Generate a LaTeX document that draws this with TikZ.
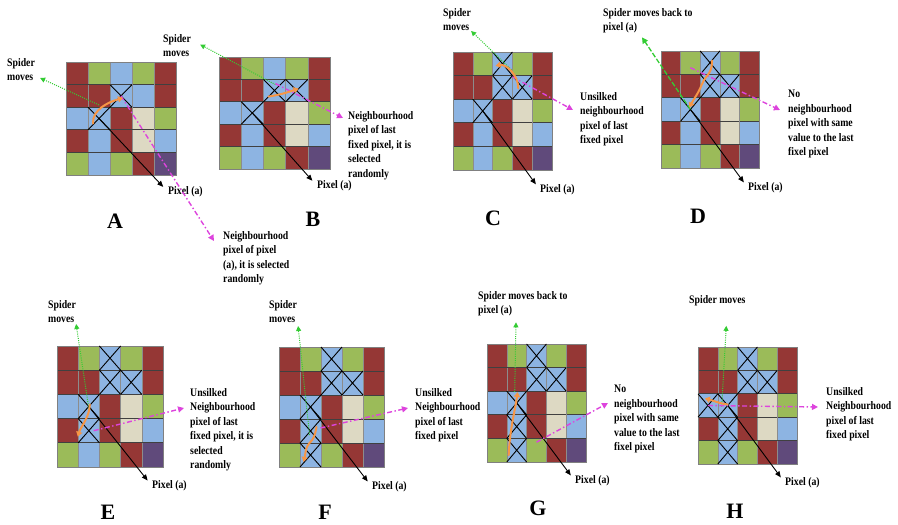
\documentclass[tikz,border=0pt]{standalone}
\usepackage{fontspec}
\setmainfont{Liberation Serif}
\newfontfamily\lblfont[FakeStretch=0.85]{Liberation Serif}
\usetikzlibrary{arrows.meta,calc}
\definecolor{cr}{HTML}{953735}
\definecolor{cg}{HTML}{9BBB59}
\definecolor{cb}{HTML}{8DB4E2}
\definecolor{cw}{HTML}{DDD9C3}
\definecolor{cp}{HTML}{604A7B}
\definecolor{arrg}{HTML}{33CC33}
\definecolor{arrp}{HTML}{DD44DD}
\definecolor{arro}{HTML}{F79646}
\tikzset{
  lbl/.style={font={\lblfont\bfseries\fontsize{11.5}{14.5}\selectfont}, align=left, inner sep=0pt, anchor=north west},
  bigl/.style={font={\bfseries\fontsize{22}{24}\selectfont}, inner sep=0pt},
  vline/.style={draw=black!45, line width=0.4pt},
  hline/.style={draw=black!75, line width=0.7pt},
  bline/.style={draw=black!50, line width=0.5pt},
  xline/.style={draw=black, line width=0.9pt},
  grn/.style={draw=arrg, line width=1pt, dash pattern=on 1pt off 1.2pt, -{Triangle[length=5pt,width=5pt]}},
  grnd/.style={draw=arrg, line width=1.3pt, dash pattern=on 5pt off 2pt, -{Triangle[length=6pt,width=6pt]}},
  pnk/.style={draw=arrp, line width=1.4pt, dash pattern=on 5pt off 2.5pt on 1.4pt off 2.5pt, -{Triangle[length=6pt,width=6pt]}},
  org/.style={draw=arro, line width=2pt, line cap=round, -{Triangle[length=5pt,width=6pt]}},
  blk/.style={draw=black, line width=0.9pt, shorten >=7pt, -{Triangle[length=6pt,width=5pt]}},
}
\newcommand\gridpanel[6]{%
  \pgfmathsetmacro\gcw{#4/5}\pgfmathsetmacro\gch{#5/5}%
  \begin{scope}[shift={(#2,#3)}, x=\gcw pt, y=-\gch pt]
    \foreach[count=\r] \row in {{cr,cg,cb,cg,cr},{cr,cr,cb,cb,cr},{cb,cb,cr,cw,cg},{cr,cb,cr,cw,cb},{cg,cb,cg,cr,cp}}{
      \foreach[count=\c] \col in \row {\fill[fill=\col] (\c-1,\r-1) rectangle (\c,\r);}}
    \foreach \i in {1,...,4} {\draw[vline] (\i,0) -- (\i,5); \draw[hline] (0,\i) -- (5,\i);}
    \draw[bline] (0,0) rectangle (5,5);
    \foreach \r/\c in {#6} {\draw[xline] (\c-1,\r-1) -- (\c,\r) (\c,\r-1) -- (\c-1,\r);}
    \foreach \r in {1,...,5}{\foreach \c in {1,...,5}{\coordinate (#1-\r-\c) at (\c-0.5,\r-0.5);}}
  \end{scope}}
\begin{document}
\begin{tikzpicture}[x=1pt,y=-1pt]
\useasboundingbox (0,0) rectangle (898,525);
% grids
\gridpanel{A}{66}{62}{110}{113}{2/3,3/2}
\gridpanel{B}{219}{57}{111}{112}{2/3,2/4,3/2}
\gridpanel{C}{453}{52}{99}{118}{1/3,2/3,2/4,3/2}
\gridpanel{D}{661}{51}{98}{117}{1/3,2/3,2/4,3/2}
\gridpanel{E}{57}{346}{106}{121}{1/3,2/3,2/4,3/2,4/2}
\gridpanel{F}{279}{347}{105}{120}{1/3,2/3,2/4,3/2,4/2,5/2}
\gridpanel{G}{487}{344}{99}{118}{1/3,2/3,2/4,3/2,4/2,5/2}
\gridpanel{H}{698}{347}{99}{117}{1/3,2/3,2/4,3/1,3/2,4/2,5/2}
% ---------- A
\node[lbl] (spA) at (7,58) {Spider\\moves};
\node[lbl,anchor=west] (pxA) at (168,192) {Pixel (a)};
\node[lbl] (nbA) at (223,231) {Neighbourhood\\pixel of pixel\\(a), it is selected\\randomly};
\node[bigl] (lA) at (115,221) {A};
\draw[grn] ($(A-2-2)!0.4!(A-3-2)$) -- ($(spA.south east)+(5,-3)$);
\draw[blk] (A-3-2) -- (pxA.west);
\draw[pnk] (A-2-3) -- ($(nbA.north west)+(-9,10)$);
\draw[org] ($(A-3-2)+(-6,5)$) .. controls +(-1,-14) and +(-14,4) .. ($(A-2-3)+(2,2)$);
% ---------- B
\node[lbl] (spB) at (163,34) {Spider\\moves};
\node[lbl,anchor=west] (pxB) at (317,186) {Pixel (a)};
\node[lbl] (nbB) at (348,111) {Neighbourhood\\pixel of last\\fixed pixel, it is\\selected\\randomly};
\node[bigl] (lB) at (313,219) {B};
\draw[grn] ($(B-2-3)+(1,-6)$) -- ($(spB.east)+(9,-1)$);
\draw[blk] (B-3-2) -- (pxB.west);
\draw[pnk] ($(B-2-3)+(1,-7)$) -- ($(nbB.north west)+(-5,7)$);
\draw[org] ($(B-2-3)+(-6,6)$) .. controls +(12,-2) and +(-12,4) .. ($(B-2-4)+(2,-2)$);
% ---------- C
\node[lbl] (spC) at (443,8) {Spider\\moves};
\node[lbl,anchor=west] (pxC) at (540,190) {Pixel (a)};
\node[lbl] (nbC) at (580,92) {Unsilked\\neighbourhood\\pixel of last\\fixed pixel};
\node[bigl] (lC) at (493,218) {C};
\draw[grn] ($(C-1-3)+(9,6)$) -- (spC.south east);
\draw[blk] (C-3-2) -- (pxC.west);
\draw[pnk] ($(C-1-3)+(10,13)$) -- ($(nbC.north west)+(-7,18)$);
\draw[org] ($(C-2-4)+(-4,1)$) .. controls +(0,-14) and +(10,-2) .. ($(C-1-3)+(-7,2)$);
% ---------- D
\node[lbl] (spD) at (603,8) {Spider moves back to\\pixel (a)};
\node[lbl,anchor=west] (pxD) at (748,188) {Pixel (a)};
\node[lbl] (nbD) at (788,90) {No\\neighbourhood\\pixel with same\\value to the last\\fixel pixel};
\node[bigl] (lD) at (698,216) {D};
\draw[grnd] (D-3-2) -- ($(spD.south west)+(39,4)$);
\draw[blk] (D-3-2) -- (pxD.west);
\draw[pnk] ($(D-1-2)+(0,5)$) -- ($(nbD.north west)+(-8,20)$);
\draw[org] ($(D-1-3)+(2,-2)$) .. controls +(0,14) and +(4,-10) .. ($(D-2-3)+(-8,-2)$) .. controls +(-4,10) and +(4,-8) .. ($(D-3-2)+(-1,-2)$);
% ---------- E
\node[lbl] (spE) at (48,300) {Spider\\moves};
\node[lbl,anchor=west] (pxE) at (152,486) {Pixel (a)};
\node[lbl] (nbE) at (190,388) {Unsilked\\Neighbourhood\\pixel of last\\fixed pixel, it is\\selected\\randomly};
\node[bigl] (lE) at (108,512) {E};
\draw[grn] ($(E-3-2)+(0,2)$) -- ($(spE.south east)+(0,1)$);
\draw[blk] (E-3-2) -- (pxE.west);
\draw[pnk] ($(E-4-2)+(5,0)$) -- ($(nbE.north west)+(-6,20)$);
\draw[org] ($(E-3-2)+(1,-2)$) .. controls +(0,12) and +(3,-10) .. ($(E-4-2)+(-11,6)$);
% ---------- F
\node[lbl] (spF) at (269,300) {Spider\\moves};
\node[lbl,anchor=west] (pxF) at (372,487) {Pixel (a)};
\node[lbl] (nbF) at (415,388) {Unsilked\\Neighbourhood\\pixel of last\\fixed pixel};
\node[bigl] (lF) at (325,512) {F};
\draw[grn] ($(F-4-2)+(-1,4)$) -- ($(spF.south east)+(1,3)$);
\draw[blk] (F-3-2) -- (pxF.west);
\draw[pnk] ($(F-4-2)+(10,-3)$) -- ($(nbF.north west)+(-7,20)$);
\draw[org] ($(F-4-2)+(6,-4)$) .. controls +(-2,10) and +(4,-4) .. ($(F-4-2)+(-1,12)$) .. controls +(-4,4) and +(2,-8) .. ($(F-5-2)+(-7,7)$);
% ---------- G
\node[lbl] (spG) at (478,291) {Spider moves back to\\pixel (a)};
\node[lbl,anchor=west] (pxG) at (575,481) {Pixel (a)};
\node[lbl] (nbG) at (614,385) {No\\neighbourhood\\pixel with same\\value to the last\\fixel pixel};
\node[bigl] (lG) at (538,508) {G};
\draw[grn] ($(G-3-2)+(-2,-11)$) -- ($(spG.south west)+(38,6)$);
\draw[blk] (G-3-2) -- (pxG.west);
\draw[pnk] ($(G-5-3)+(0,-8)$) -- ($(nbG.north west)+(-6,18)$);
\draw[org] ($(G-5-2)+(-8,5)$) .. controls +(1,-25) and +(-3,20) .. ($(G-3-2)+(1,-11)$);
% ---------- H
\node[lbl] (spH) at (689,295) {Spider moves};
\node[lbl,anchor=west] (pxH) at (785,483) {Pixel (a)};
\node[lbl] (nbH) at (826,387) {Unsilked\\Neighbourhood\\pixel of last\\fixed pixel};
\node[bigl] (lH) at (735,511) {H};
\draw[grn] ($(H-3-2)+(-6,1)$) -- ($(spH.south)+(9,20)$);
\draw[blk] (H-3-2) -- (pxH.west);
\draw[pnk] (H-3-1) -- ($(nbH.north west)+(-8,20)$);
\draw[org] ($(H-3-2)+(0,-1)$) .. controls +(-8,-1) and +(8,2) .. ($(H-3-1)+(-3,-7)$);
\end{tikzpicture}
\end{document}
